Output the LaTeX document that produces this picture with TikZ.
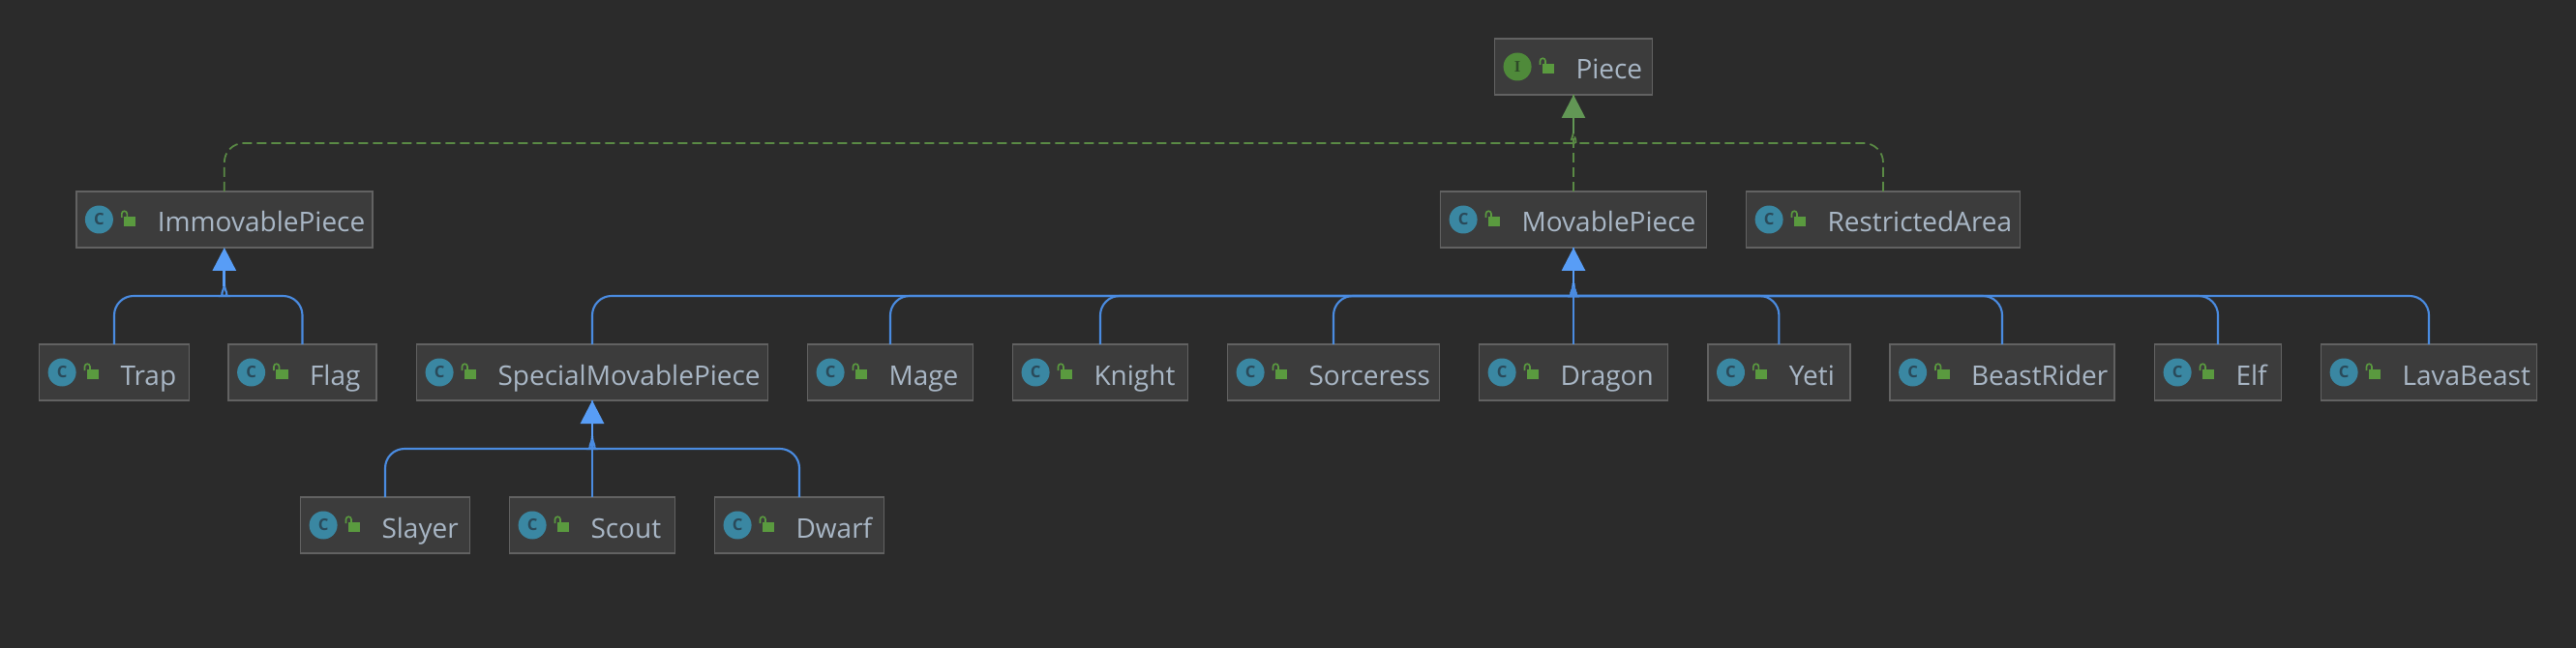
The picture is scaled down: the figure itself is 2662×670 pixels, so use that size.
\documentclass[tikz,border=0pt]{standalone}
\usepackage{fontspec}
\setmainfont{Open Sans}
\newfontfamily\slabfont{Liberation Serif}
\usetikzlibrary{calc}
\usetikzlibrary{arrows.meta}
\definecolor{pagebg}{HTML}{2B2B2B}
\definecolor{boxfill}{HTML}{3C3C3C}
\definecolor{boxline}{HTML}{626262}
\definecolor{boxtext}{HTML}{A9B7C6}
\definecolor{linkblue}{HTML}{4A8BE0}
\definecolor{tipblue}{HTML}{589DF6}
\definecolor{linkgreen}{HTML}{5A8A45}
\definecolor{tipgreen}{HTML}{629755}
\definecolor{classteal}{HTML}{3A87A2}
\definecolor{classdark}{HTML}{2A4A5A}
\definecolor{ifacegreen}{HTML}{4F8A3A}
\definecolor{ifacedark}{HTML}{2E4A28}
\definecolor{lockgreen}{HTML}{5A9A3F}
\tikzset{
    classnode/.style = {rectangle, draw=boxline, line width=1.1pt, fill=boxfill, text=boxtext, outer sep=0pt, inner sep=0pt,
        font=\fontsize{21}{26}\selectfont, align=left, text width=#1*0.75pt, text height=31.5pt, text depth=12pt,
        execute at begin node={\hspace*{63pt}}},
    iconletter/.style = {inner sep=0pt, font=\fontsize{12.5}{13}\selectfont\bfseries},
    edgeb/.style = {-,line width=1.6pt,linkblue},
    edgebt/.style = {-{Triangle[length=18pt,width=18pt]},line width=2.2pt,tipblue},
    edgegd/.style = {-,line width=1.3pt,linkgreen,dash pattern=on 7.5pt off 3.75pt}, % realizes
    edgegt/.style = {-{Triangle[length=18pt,width=18pt]},line width=2pt,tipgreen},
    hook/.style = {to path={(\tikztostart.north) [rounded corners=15pt] |- ($(\tikztotarget.south)+(#1*20,50)$) [sharp corners]
        .. controls ($(\tikztotarget.south)+(#1*6,50)$) and ($(\tikztotarget.south)+(0,45)$) .. ($(\tikztotarget.south)+(0,37)$)}},
    lockicon/.pic = {
        \fill[lockgreen] (49,-3) rectangle (61.5,7);
        \draw[lockgreen,line width=1.2pt] (47,-2) -- (47,-6) arc[start angle=180,end angle=360,radius=2.75] -- (52.5,-3);
    },
    iconc/.pic = {
        \fill[classteal] (23.6,0) circle (14.5);
        \node[iconletter,text=classdark] (letter) at (23.6,0) {C};
        \pic {lockicon};
    },
    iconi/.pic = {
        \fill[ifacegreen] (23.6,0) circle (14.5);
        \node[iconletter,text=ifacedark] (letter) at (23.6,0) {\slabfont I};
        \pic {lockicon};
    }
}
\begin{document}
\begin{tikzpicture}[x=0.75pt,y=-0.75pt]
\path[use as bounding box,fill=pagebg] (0,0) rectangle (2662,670);

\node[classnode=163] (Piece) at (1626,69) {Piece};

\node[classnode=306] (ImmovablePiece) at (231.8,227) {ImmovablePiece};
\node[classnode=275] (MovablePiece) at (1626,227) {MovablePiece};
\node[classnode=283] (RestrictedArea) at (1946,227) {RestrictedArea};

\node[classnode=155] (Trap) at (118,385) {Trap};
\node[classnode=153] (Flag) at (312.5,385) {Flag};
\node[classnode=363] (SpecialMovablePiece) at (612,385) {SpecialMovablePiece};
\node[classnode=171] (Mage) at (920,385) {Mage};
\node[classnode=181] (Knight) at (1137,385) {Knight};
\node[classnode=219] (Sorceress) at (1378,385) {Sorceress};
\node[classnode=195] (Dragon) at (1626,385) {Dragon};
\node[classnode=147] (Yeti) at (1838.4,385) {Yeti};
\node[classnode=232] (BeastRider) at (2069,385) {BeastRider};
\node[classnode=131] (Elf) at (2292,385) {Elf};
\node[classnode=223] (LavaBeast) at (2510,385) {LavaBeast};

\node[classnode=175] (Slayer) at (398,543) {Slayer};
\node[classnode=171] (Scout) at (612,543) {Scout};
\node[classnode=175] (Dwarf) at (826,543) {Dwarf};

\pic (Pieceicon) at (Piece.west) {iconi};
\pic (ImmovablePieceicon) at (ImmovablePiece.west) {iconc};
\pic (MovablePieceicon) at (MovablePiece.west) {iconc};
\pic (RestrictedAreaicon) at (RestrictedArea.west) {iconc};
\pic (Trapicon) at (Trap.west) {iconc};
\pic (Flagicon) at (Flag.west) {iconc};
\pic (SpecialMovablePieceicon) at (SpecialMovablePiece.west) {iconc};
\pic (Mageicon) at (Mage.west) {iconc};
\pic (Knighticon) at (Knight.west) {iconc};
\pic (Sorceressicon) at (Sorceress.west) {iconc};
\pic (Dragonicon) at (Dragon.west) {iconc};
\pic (Yetiicon) at (Yeti.west) {iconc};
\pic (BeastRidericon) at (BeastRider.west) {iconc};
\pic (Elficon) at (Elf.west) {iconc};
\pic (LavaBeasticon) at (LavaBeast.west) {iconc};
\pic (Slayericon) at (Slayer.west) {iconc};
\pic (Scouticon) at (Scout.west) {iconc};
\pic (Dwarficon) at (Dwarf.west) {iconc};

\coordinate (PieceJ) at ($(Piece.south)+(0,40)$);
\coordinate (ImmovablePieceJ) at ($(ImmovablePiece.south)+(0,40)$);
\coordinate (MovablePieceJ) at ($(MovablePiece.south)+(0,40)$);
\coordinate (SpecialMovablePieceJ) at ($(SpecialMovablePiece.south)+(0,40)$);

\draw[edgegd] (ImmovablePiece) to[hook=-1] (Piece);
\draw[edgegd] (RestrictedArea) to[hook=1] (Piece);
\draw[edgegd] (MovablePiece) -- (Piece);
\draw[edgegt] (PieceJ) -- (Piece.south);

\draw[edgeb] (Trap) to[hook=-1] (ImmovablePiece);
\draw[edgeb] (Flag) to[hook=1] (ImmovablePiece);
\draw[edgebt] (ImmovablePieceJ) -- (ImmovablePiece.south);

\draw[edgeb] (SpecialMovablePiece) to[hook=-1] (MovablePiece);
\draw[edgeb] (Mage) to[hook=-1] (MovablePiece);
\draw[edgeb] (Knight) to[hook=-1] (MovablePiece);
\draw[edgeb] (Sorceress) to[hook=-1] (MovablePiece);
\draw[edgeb] (Dragon) -- (MovablePiece);
\draw[edgeb] (Yeti) to[hook=1] (MovablePiece);
\draw[edgeb] (BeastRider) to[hook=1] (MovablePiece);
\draw[edgeb] (Elf) to[hook=1] (MovablePiece);
\draw[edgeb] (LavaBeast) to[hook=1] (MovablePiece);
\draw[edgebt] (MovablePieceJ) -- (MovablePiece.south);

\draw[edgeb] (Slayer) to[hook=-1] (SpecialMovablePiece);
\draw[edgeb] (Scout) -- (SpecialMovablePiece);
\draw[edgeb] (Dwarf) to[hook=1] (SpecialMovablePiece);
\draw[edgebt] (SpecialMovablePieceJ) -- (SpecialMovablePiece.south);
\end{tikzpicture}
\end{document}
